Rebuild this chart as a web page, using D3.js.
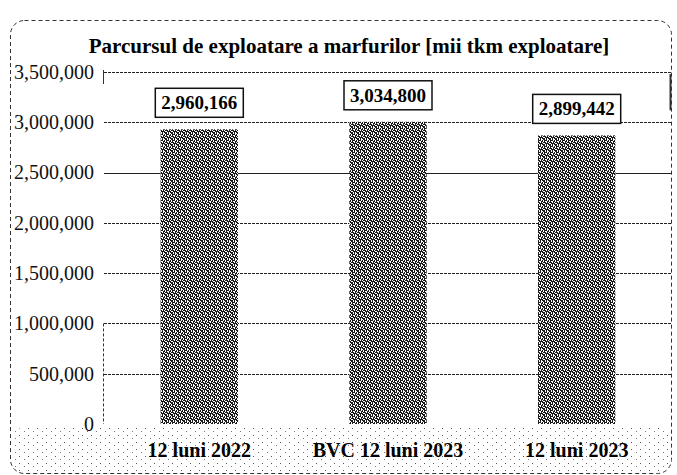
<!DOCTYPE html>
<html>
<head>
<meta charset="utf-8">
<script src="https://cdn.jsdelivr.net/npm/d3@7"></script>
<style>
  body { margin: 0; background: #fff; }
  svg text { font-family: "Liberation Serif", "DejaVu Serif", "Times New Roman", serif !important; }
</style>
</head>
<body>
<div id="chart"></div>
<script>
// data
var categories = ["12 luni 2022", "BVC 12 luni 2023", "12 luni 2023"];
var values = [2960166, 3034800, 2899442];
var yTicks = [0, 500000, 1000000, 1500000, 2000000, 2500000, 3000000, 3500000];
var title = "Parcursul de exploatare a marfurilor [mii tkm exploatare]";

var W = 677, H = 475;
var margin = {top: 72, right: 5, bottom: 51, left: 104},
    width = W - margin.left - margin.right,
    height = H - margin.top - margin.bottom;

var svg = d3.select("#chart").append("svg")
  .attr("width", W)
  .attr("height", H);

var defs = svg.append("defs");

// dithered fill for the bars (scan look)
var pat = defs.append("pattern")
  .attr("id", "dither")
  .attr("width", 6).attr("height", 6)
  .attr("patternUnits", "userSpaceOnUse");
pat.append("rect").attr("width", 6).attr("height", 6).attr("fill", "#fff");
pat.append("path")
  .attr("d", "M0,0h3v1h-3z M4,0h1v2h-1z M2,1h1v2h-1z M0,2h1v2h-1z M3,2h2v1h-2z M5,3h1v2h-1z M1,4h3v1h-3z M2,3h1v1h-1z M0,5h1v1h-1z M4,5h2v1h-2z M1,1h1v1h-1z M3,4h1v2h-1z")
  .attr("fill", "#1a1a1a");

// sparse stipple at the bottom
var dots = defs.append("pattern")
  .attr("id", "stipple")
  .attr("width", 9).attr("height", 7)
  .attr("patternUnits", "userSpaceOnUse");
dots.append("rect").attr("x", 1).attr("y", 1).attr("width", 1).attr("height", 1).attr("fill", "#555");
dots.append("rect").attr("x", 6).attr("y", 4).attr("width", 1).attr("height", 1).attr("fill", "#777");

svg.append("rect")
  .attr("x", 12).attr("y", 428)
  .attr("width", 658).attr("height", 44)
  .attr("rx", 10)
  .attr("fill", "url(#stipple)");

// outer dashed frame
svg.append("rect")
  .attr("x", 10.5).attr("y", 20.5)
  .attr("width", 661).attr("height", 453)
  .attr("rx", 14)
  .attr("fill", "none")
  .attr("stroke", "#333")
  .attr("stroke-width", 1)
  .attr("stroke-dasharray", "4,3");

svg.append("text")
  .attr("x", 349).attr("y", 53)
  .attr("text-anchor", "middle")
  .style("font-weight", "bold")
  .style("font-size", "21px")
  .text(title);

var g = svg.append("g")
  .attr("transform", "translate(" + margin.left + "," + margin.top + ")");

var x = d3.scaleBand()
  .domain(categories)
  .range([0, width])
  .paddingInner(0.59)
  .paddingOuter(0.3);

var y = d3.scaleLinear()
  .domain([0, 3500000])
  .range([height, 0]);

// gridlines
g.append("g")
  .selectAll("line")
  .data(yTicks.filter(function(d){ return d > 0; }))
  .enter()
  .append("line")
  .attr("x1", 0).attr("x2", width)
  .attr("y1", function(d){ return Math.round(y(d)) + 0.5; })
  .attr("y2", function(d){ return Math.round(y(d)) + 0.5; })
  .attr("stroke", "#222")
  .attr("stroke-width", 1)
  .attr("stroke-dasharray", function(d){ return d == 2500000 ? null : "3,1"; });

// y axis labels
var yAxis = d3.axisLeft(y)
  .tickValues(yTicks)
  .tickSize(0)
  .tickPadding(10)
  .tickFormat(d3.format(","));

var ya = g.append("g").call(yAxis);
ya.select(".domain").remove();
ya.attr("font-family", null);
ya.selectAll("text")
  .style("font-size", "20px")
  .attr("fill", "#111");

// short axis pieces
g.append("line")
  .attr("x1", -0.5).attr("x2", -0.5)
  .attr("y1", y(1000000)).attr("y2", height)
  .attr("stroke", "#333").attr("stroke-dasharray", "3,2");
g.append("line")
  .attr("x1", -0.5).attr("x2", -0.5)
  .attr("y1", y(3500000) - 2).attr("y2", y(3500000) + 12)
  .attr("stroke", "#333");
g.append("line")
  .attr("x1", width - 1.5).attr("x2", width - 1.5)
  .attr("y1", y(3500000) + 2).attr("y2", y(3000000) - 12)
  .attr("stroke", "#333").attr("stroke-width", 2);

// bars
g.selectAll(".bar")
  .data(values)
  .enter()
  .append("rect")
  .attr("class", "bar")
  .attr("x", function(d, i){ return x(categories[i]); })
  .attr("width", x.bandwidth())
  .attr("y", function(d){ return y(d) + 3; })
  .attr("height", function(d){ return height - y(d) - 3; })
  .attr("fill", "url(#dither)");

// value label boxes
var lab = g.selectAll(".lab")
  .data(values)
  .enter()
  .append("g")
  .attr("class", "lab")
  .attr("transform", function(d, i){
    return "translate(" + (x(categories[i]) + x.bandwidth() / 2) + "," + (y(d) - 8) + ")";
  });

lab.append("rect")
  .attr("x", -44).attr("y", -30)
  .attr("width", 88).attr("height", 29)
  .attr("fill", "#fff")
  .attr("stroke", "#111")
  .attr("stroke-width", 1.5);

lab.append("text")
  .attr("text-anchor", "middle")
  .attr("y", -9)
  .style("font-weight", "bold")
  .style("font-size", "19px")
  .text(function(d){ return d3.format(",")(d); });

// category labels
g.selectAll(".cat")
  .data(categories)
  .enter()
  .append("text")
  .attr("class", "cat")
  .attr("x", function(d){ return x(d) + x.bandwidth() / 2; })
  .attr("y", height + 33)
  .attr("text-anchor", "middle")
  .style("font-weight", "bold")
  .style("font-size", "20px")
  .text(function(d){ return d; });
</script>
</body>
</html>
